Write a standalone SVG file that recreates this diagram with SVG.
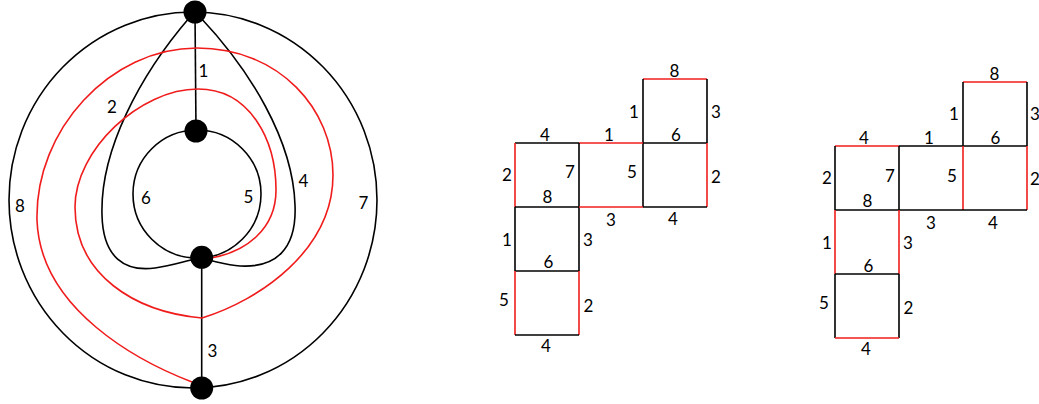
<svg xmlns="http://www.w3.org/2000/svg" width="1039" height="404" viewBox="0 0 1039 404">
<style>
.b{fill:none;stroke:#000;stroke-width:1.6}
.r{fill:none;stroke:#f01c1c;stroke-width:1.6}
.n{fill:#000}
text{font-family:Lato,"Liberation Sans",sans-serif;font-size:17px;fill:#000;text-anchor:middle}
</style>
<rect width="1039" height="404" fill="#fff"/>
<g id="graph-edges">
<ellipse class="b" cx="193" cy="200" rx="184" ry="188"/>
<circle class="b" cx="197" cy="194" r="64"/>
<line class="b" x1="195" y1="12" x2="196" y2="131"/>
<line class="b" x1="201.7" y1="257" x2="201.7" y2="388"/>
<path class="b" d="M190,17 C140,75 100,150 102,215 C103,258 125,272 155,268 C170,266 182,262 195,259"/>
<path class="b" d="M200,17 C250,70 293,140 295,205 C297,250 275,268 240,266 C228,265 218,262 208,260"/>
<path class="r" d="M192,382 C140,362 40,310 37,220 C35,130 110,48 197,48 C280,48 333,110 333,175 C333,250 260,300 202,318 C135,312 75,275 75,207 C75,150 140,89 198,89 C250,89 276,140 276,190 C276,230 245,252 211,258"/>
</g>
<g id="graph-nodes">
<circle id="v-top" class="n" cx="195" cy="12" r="11.5"/>
<circle id="v-mid" class="n" cx="196" cy="131" r="11.5"/>
<circle id="v-low" class="n" cx="201.7" cy="257.3" r="11.5"/>
<circle id="v-bot" class="n" cx="201.7" cy="388" r="11.5"/>
</g>
<g id="graph-labels">
<text x="203.5" y="77">1</text>
<text x="112" y="112.5">2</text>
<text x="303.5" y="186.5">4</text>
<text x="146" y="203.5">6</text>
<text x="248.5" y="203">5</text>
<text x="20" y="211.5">8</text>
<text x="363.5" y="208.5">7</text>
<text x="212.5" y="357">3</text>
</g>
<g id="net1">
<line class="r" x1="643" y1="79" x2="707" y2="79"/>
<line class="b" x1="643" y1="79" x2="643" y2="207"/>
<line class="b" x1="707" y1="79" x2="707" y2="143"/>
<line class="b" x1="515" y1="143" x2="579" y2="143"/>
<line class="r" x1="579" y1="143" x2="643" y2="143"/>
<line class="b" x1="643" y1="143" x2="707" y2="143"/>
<line class="r" x1="707" y1="143" x2="707" y2="207"/>
<line class="r" x1="515" y1="143" x2="515" y2="207"/>
<line class="b" x1="579" y1="143" x2="579" y2="271"/>
<line class="b" x1="515" y1="207" x2="579" y2="207"/>
<line class="r" x1="579" y1="207" x2="643" y2="207"/>
<line class="b" x1="643" y1="207" x2="707" y2="207"/>
<line class="b" x1="515" y1="207" x2="515" y2="271"/>
<line class="b" x1="515" y1="271" x2="579" y2="271"/>
<line class="r" x1="515" y1="271" x2="515" y2="335"/>
<line class="r" x1="579" y1="271" x2="579" y2="335"/>
<line class="b" x1="515" y1="335" x2="579" y2="335"/>
<text x="674.5" y="76.5">8</text>
<text x="634" y="117.5">1</text>
<text x="716" y="117.5">3</text>
<text x="676" y="140.5">6</text>
<text x="545" y="140.5">4</text>
<text x="609" y="140.5">1</text>
<text x="507" y="180.5">2</text>
<text x="570" y="178">7</text>
<text x="632" y="178">5</text>
<text x="716" y="182.5">2</text>
<text x="547.5" y="203">8</text>
<text x="611" y="225.5">3</text>
<text x="673" y="224.5">4</text>
<text x="507" y="245.5">1</text>
<text x="588" y="245.5">3</text>
<text x="548.5" y="268">6</text>
<text x="504" y="305.5">5</text>
<text x="588.5" y="311.5">2</text>
<text x="546" y="351.5">4</text>
</g>
<g id="net2">
<line class="r" x1="963" y1="82" x2="1027" y2="82"/>
<line class="b" x1="963" y1="82" x2="963" y2="146"/>
<line class="b" x1="1027" y1="82" x2="1027" y2="146"/>
<line class="r" x1="835" y1="146" x2="899" y2="146"/>
<line class="b" x1="899" y1="146" x2="1027" y2="146"/>
<line class="b" x1="835" y1="146" x2="835" y2="210"/>
<line class="b" x1="899" y1="146" x2="899" y2="210"/>
<line class="r" x1="963" y1="146" x2="963" y2="210"/>
<line class="r" x1="1027" y1="146" x2="1027" y2="210"/>
<line class="b" x1="835" y1="210" x2="1027" y2="210"/>
<line class="r" x1="835" y1="210" x2="835" y2="274"/>
<line class="r" x1="899" y1="210" x2="899" y2="274"/>
<line class="b" x1="835" y1="274" x2="899" y2="274"/>
<line class="b" x1="835" y1="274" x2="835" y2="338"/>
<line class="b" x1="899" y1="274" x2="899" y2="338"/>
<line class="r" x1="835" y1="338" x2="899" y2="338"/>
<text x="994.5" y="79.5">8</text>
<text x="954" y="120">1</text>
<text x="1035" y="120">3</text>
<text x="995.5" y="144">6</text>
<text x="864" y="144">4</text>
<text x="929" y="144">1</text>
<text x="827" y="183.5">2</text>
<text x="890" y="181.5">7</text>
<text x="952" y="181.5">5</text>
<text x="1035" y="185">2</text>
<text x="867.5" y="206.5">8</text>
<text x="931" y="228.5">3</text>
<text x="993" y="228.5">4</text>
<text x="827" y="248.5">1</text>
<text x="908" y="248.5">3</text>
<text x="868.5" y="271.5">6</text>
<text x="824" y="308.5">5</text>
<text x="908.5" y="313.5">2</text>
<text x="866" y="355">4</text>
</g>
</svg>
